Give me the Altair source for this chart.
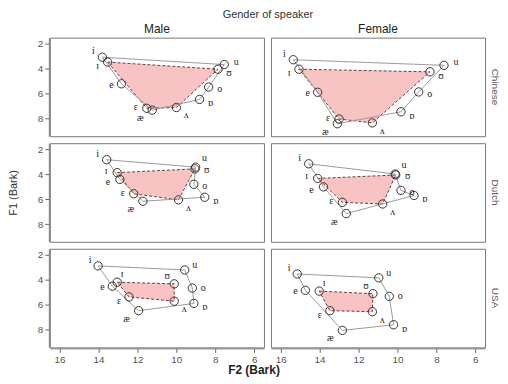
import altair as alt
import pandas as pd

vowels = ["i", "ɪ", "e", "ɛ", "æ", "ʌ", "ɒ", "o", "ʊ", "u"]
languages = ["Chinese", "Dutch", "USA"]
genders = ["Male", "Female"]

f2_chinese_male = [13.80, 13.53, 12.82, 11.52, 11.24, 10.00, 8.81, 8.34, 7.86, 7.54]
f1_chinese_male = [3.07, 3.46, 5.20, 7.16, 7.31, 7.10, 6.45, 5.46, 4.03, 3.66]
f2_chinese_female = [15.35, 15.06, 14.10, 13.00, 13.09, 11.29, 9.82, 8.91, 8.33, 7.61]
f1_chinese_female = [3.27, 4.03, 5.88, 8.02, 8.40, 8.33, 7.44, 5.85, 4.24, 3.72]
f2_dutch_male = [13.58, 13.04, 12.90, 12.19, 11.72, 9.89, 8.54, 9.10, 9.05, 9.01]
f1_dutch_male = [2.82, 3.86, 4.40, 5.55, 6.15, 6.04, 5.83, 4.79, 3.56, 3.42]
f2_dutch_female = [14.56, 14.10, 13.80, 12.83, 12.63, 10.76, 9.15, 9.82, 10.09, 10.12]
f1_dutch_female = [3.15, 4.32, 5.00, 6.24, 7.14, 6.37, 5.69, 5.28, 4.05, 3.97]
f2_usa_male = [14.02, 13.04, 13.29, 12.43, 11.94, 10.11, 9.10, 9.18, 10.11, 9.57]
f1_usa_male = [2.87, 4.18, 4.50, 5.36, 6.46, 5.70, 5.88, 4.65, 4.31, 3.20]
f2_usa_female = [15.15, 14.02, 14.73, 13.47, 12.83, 11.29, 10.20, 10.42, 11.26, 10.96]
f1_usa_female = [3.52, 4.89, 4.83, 6.46, 8.04, 6.54, 7.59, 5.31, 5.10, 3.83]

outer_order = ["i", "e", "æ", "ɒ", "o", "u", "i"]
inner_order = ["ɪ", "ʊ", "ʌ", "ɛ", "ɪ"]

series = {
    ("Chinese", "Male"): (f2_chinese_male, f1_chinese_male),
    ("Chinese", "Female"): (f2_chinese_female, f1_chinese_female),
    ("Dutch", "Male"): (f2_dutch_male, f1_dutch_male),
    ("Dutch", "Female"): (f2_dutch_female, f1_dutch_female),
    ("USA", "Male"): (f2_usa_male, f1_usa_male),
    ("USA", "Female"): (f2_usa_female, f1_usa_female),
}

rows = []
for lang in languages:
    for g in genders:
        F2, F1 = series[(lang, g)]
        pos = {v: (a, b) for v, a, b in zip(vowels, F2, F1)}
        for v in vowels:
            rows.append(dict(language=lang, gender=g, kind="pt", vowel=v,
                             f2=pos[v][0], f1=pos[v][1], k=0))
        for k, v in enumerate(outer_order):
            rows.append(dict(language=lang, gender=g, kind="outer", vowel=v,
                             f2=pos[v][0], f1=pos[v][1], k=k))
        for k, v in enumerate(inner_order):
            rows.append(dict(language=lang, gender=g, kind="inner", vowel=v,
                             f2=pos[v][0], f1=pos[v][1], k=k))
df = pd.DataFrame(rows)

# label offsets (style) per vowel, in pixels; per-language overrides
label_offsets = {
    "i": (-9, -6), "ɪ": (-10, 4), "e": (-10, 1), "ɛ": (-11, -1),
    "æ": (-12, 8), "ʌ": (10, 8), "ɒ": (11, 4), "o": (11, 2),
    "ʊ": (11, 4), "u": (12, -3),
}
label_overrides = {
    "Dutch": {"u": (9, -9), "ʊ": (12, 1), "ɪ": (-11, -2), "e": (-12, 3)},
    "USA": {"ʊ": (-7, -8), "ɪ": (5, -8), "ɛ": (-10, 4), "u": (10, -5),
            "o": (11, 0), "i": (-8, -6)},
}

xs = alt.X("f2:Q",
           scale=alt.Scale(domain=[5.5, 16.5], reverse=True, nice=False, zero=False),
           axis=alt.Axis(values=[16, 14, 12, 10, 8, 6], title=None))
ys = alt.Y("f1:Q",
           scale=alt.Scale(domain=[1.5, 9.4], reverse=True, nice=False, zero=False),
           axis=alt.Axis(values=[2, 4, 6, 8], title=None))

base = alt.Chart()
inner = base.mark_line(fill="#f8c3c3", stroke="#6e3a3a", strokeDash=[3, 2],
                       strokeWidth=1).encode(
    x=xs, y=ys, order="k:Q").transform_filter(alt.datum.kind == "inner")
outer = base.mark_line(color="#9a9a9a", strokeWidth=1).encode(
    x=xs, y=ys, order="k:Q").transform_filter(alt.datum.kind == "outer")
points = base.mark_point(shape="circle", filled=False, size=70, color="#333333",
                         strokeWidth=1, opacity=1).encode(
    x=xs, y=ys).transform_filter(alt.datum.kind == "pt")

labels = []
for lang in languages:
    for v in vowels:
        dx, dy = label_overrides.get(lang, {}).get(v, label_offsets[v])
        labels.append(
            base.mark_text(dx=dx, dy=dy, font="Liberation Serif", fontSize=10,
                           color="#222222").encode(
                x=xs, y=ys, text="vowel:N").transform_filter(
                (alt.datum.kind == "pt") & (alt.datum.vowel == v)
                & (alt.datum.language == lang))
        )

layered = alt.layer(inner, outer, points, *labels, data=df).properties(
    width=215, height=99)

chart = layered.facet(
    row=alt.Row("language:N", sort=languages,
                header=alt.Header(title="F1 (Bark)", titleOrient="left",
                                  labelOrient="right", labelAngle=90,
                                  labelFontSize=10, labelColor="#555555",
                                  labelFont="Liberation Sans", labelPadding=4,
                                  titleFont="Liberation Sans", titleFontSize=11,
                                  titleFontWeight="normal", titleColor="#333333",
                                  titlePadding=8)),
    column=alt.Column("gender:N", sort=genders,
                      header=alt.Header(title="Gender of speaker", titleOrient="top",
                                        labelOrient="top", labelFontSize=12,
                                        labelFont="Liberation Sans", labelColor="#222222",
                                        labelPadding=1,
                                        titleFont="Liberation Sans", titleFontSize=11,
                                        titleFontWeight="normal", titleColor="#333333",
                                        titlePadding=-7)),
    spacing=5,
).properties(
    padding={"left": 0, "top": 0, "right": 0, "bottom": 0},
    title=alt.TitleParams("F2 (Bark)", orient="bottom", anchor="middle",
                          font="Liberation Sans", fontSize=12, fontWeight="bold",
                          color="#222222", offset=1)
).configure_view(
    stroke="#777777", strokeWidth=1
).configure_axis(
    grid=False, labelFont="Liberation Sans", labelFontSize=10, labelColor="#555555",
    tickColor="#666666", domainColor="#777777", tickSize=4, labelPadding=2
)

chart.save("out.html", embed_options={"renderer": "svg", "actions": False})
